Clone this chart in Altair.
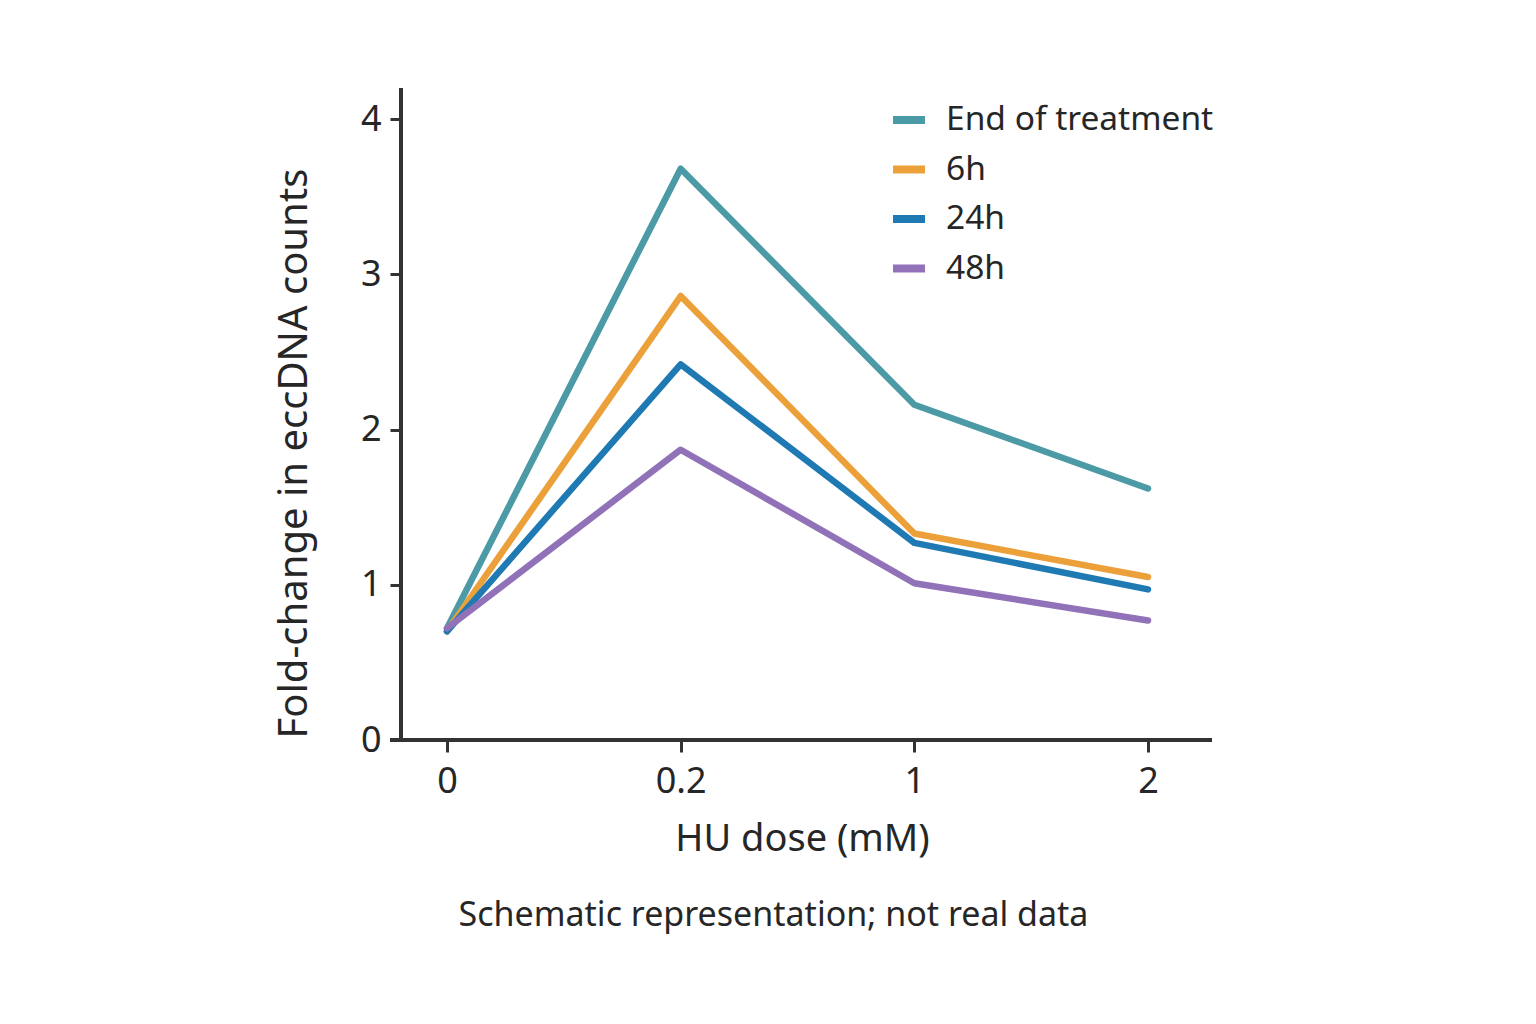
import altair as alt
import pandas as pd

doses = ["0", "0.2", "1", "2"]
series_names = ["End of treatment", "6h", "24h", "48h"]
end_of_treatment = [0.72, 3.68, 2.16, 1.62]
h6 = [0.70, 2.86, 1.33, 1.05]
h24 = [0.70, 2.42, 1.27, 0.97]
h48 = [0.72, 1.87, 1.01, 0.77]
colors = ["#4b9aa6", "#eca03a", "#1f7ab3", "#9171b8"]

rows = []
for name, vals in zip(series_names, [end_of_treatment, h6, h24, h48]):
    for d, v in zip(doses, vals):
        rows.append({"dose": d, "value": v, "series": name})
df = pd.DataFrame(rows)

W, H = 811, 652
FONT = "Noto Sans"
TXT = "#262626"

lines = alt.Chart(df).mark_line(strokeWidth=6.5, strokeCap="round", strokeJoin="round").encode(
    x=alt.X("dose:N", sort=doses,
            scale=alt.Scale(type="point", range=[46, 747], padding=0),
            axis=alt.Axis(title="HU dose (mM)", labelAngle=0, domain=False,
                          tickSize=12, tickWidth=3, tickColor="#333333",
                          labelFontSize=36, labelPadding=12, labelColor=TXT, labelFont=FONT,
                          titleFontSize=38, titleFontWeight="normal", titleColor=TXT, titleFont=FONT,
                          titleX=401, titleY=110, titleBaseline="alphabetic", grid=False)),
    y=alt.Y("value:Q", scale=alt.Scale(domain=[0, 4.2], nice=False),
            axis=alt.Axis(title="Fold-change in eccDNA counts", values=[0, 1, 2, 3, 4],
                          domain=False, tickSize=11, tickWidth=3, tickColor="#333333",
                          labelFontSize=36, labelPadding=9, labelColor=TXT, labelFont=FONT,
                          labelBaseline="middle",
                          titleFontSize=40, titleFontWeight="normal", titleColor=TXT, titleFont=FONT,
                          titleAngle=-90, titleX=-95, titleY=365, titleBaseline="alphabetic",
                          grid=False)),
    color=alt.Color("series:N", sort=series_names,
                    scale=alt.Scale(domain=series_names, range=colors),
                    legend=alt.Legend(title=None, orient="none", legendX=488, legendY=12,
                                      symbolType="stroke", symbolSize=1024, symbolStrokeWidth=8,
                                      labelFontSize=33.5, labelFont=FONT, labelColor=TXT,
                                      labelLimit=600,
                                      rowPadding=12.5, labelOffset=17, symbolOffset=0)),
)

yaxis_line = alt.Chart(df).mark_rule(color="#333333", strokeWidth=3).encode(
    x=alt.value(0), y=alt.value(0), y2=alt.value(H))
xaxis_line = alt.Chart(df).mark_rule(color="#333333", strokeWidth=3).encode(
    x=alt.value(-11), x2=alt.value(W), y=alt.value(H))

chart = alt.layer(lines, yaxis_line, xaxis_line).properties(
    width=W, height=H,
    autosize=alt.AutoSizeParams(type="none"),
    padding={"left": 401, "top": 88, "right": 324, "bottom": 284},
    background="white",
    title=alt.TitleParams("Schematic representation; not real data", orient="bottom",
                          anchor="middle", fontSize=34, fontWeight="normal", font=FONT,
                          color=TXT, offset=41, dx=-33),
).configure_view(stroke=None)

chart.save("out.html", embed_options={"renderer": "svg", "actions": False})
